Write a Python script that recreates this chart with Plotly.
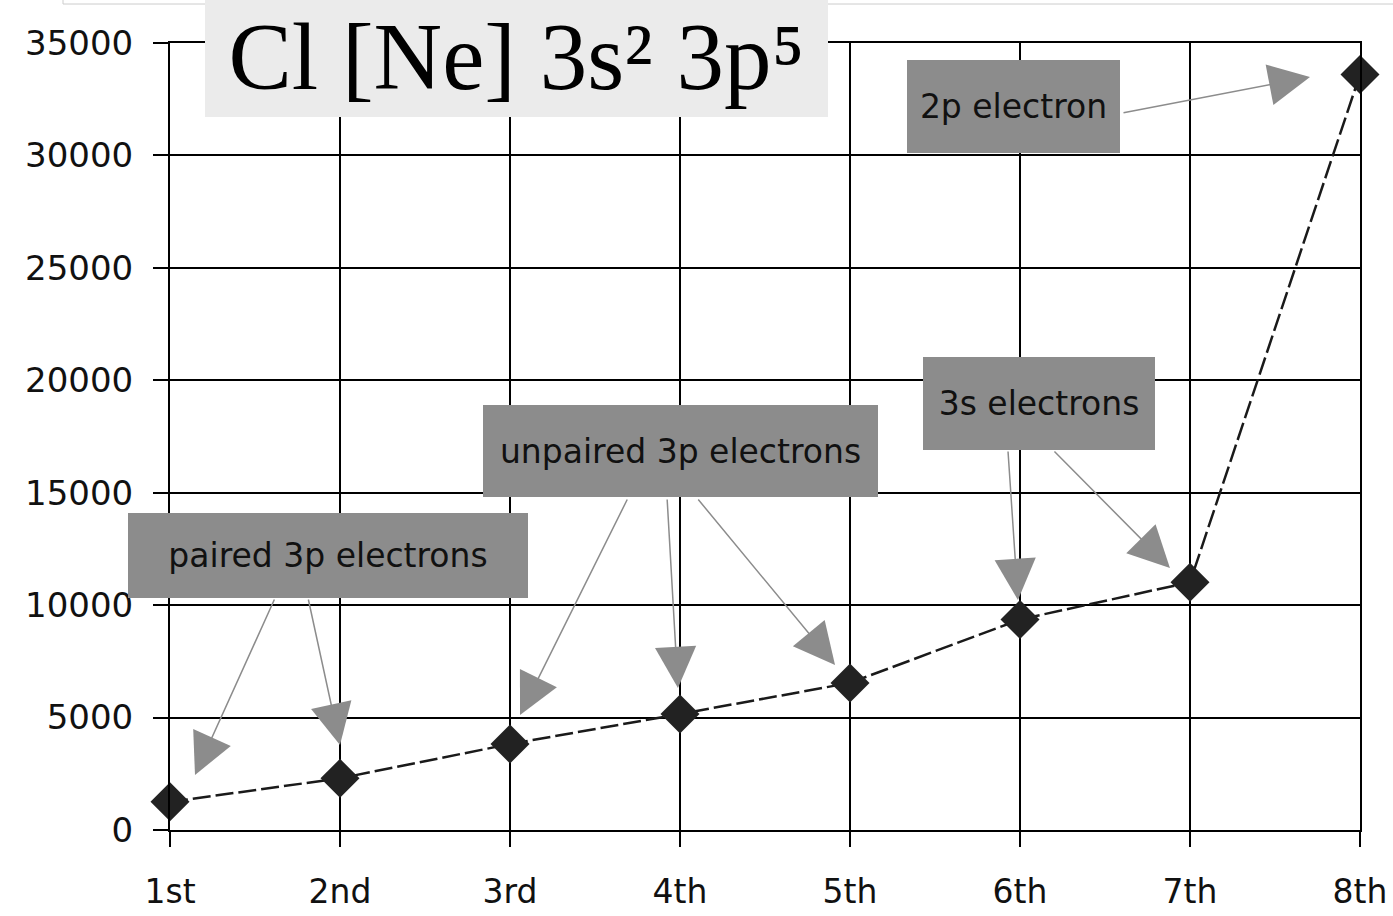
import plotly.graph_objects as go

# ---- data ----
categories = ["1st", "2nd", "3rd", "4th", "5th", "6th", "7th", "8th"]
ionisation_energy = [1251, 2298, 3822, 5159, 6542, 9362, 11018, 33604]
y_ticks = [0, 5000, 10000, 15000, 20000, 25000, 30000, 35000]
y_ticklabels = ["0", "5000", "10000", "15000", "20000", "25000", "30000", "35000"]

title_text = "Cl [Ne] 3s\u00b2 3p\u2075"

# label boxes: text, centre x (category index), centre y (value), width px, height px
box_texts = ["paired 3p electrons", "unpaired 3p electrons", "3s electrons", "2p electron"]
box_x = [0.929, 3.003, 5.112, 4.962]
box_y = [12207, 16854, 18966, 32174]
box_w = [400, 395, 232, 213]
box_h = [85, 92, 93, 93]

# arrows: tail (x, y) -> head (x, y)
arrow_tail_x = [0.618, 0.812, 2.694, 2.924, 3.100, 4.929, 5.194, 5.600]
arrow_tail_y = [10317, 10317, 14764, 14764, 14764, 16899, 16899, 31885]
arrow_head_x = [0.147, 1.000, 2.059, 2.988, 3.912, 4.988, 5.882, 6.706]
arrow_head_y = [2446, 3780, 5114, 6315, 7338, 10228, 11651, 33486]

xs = list(range(len(categories)))

fig = go.Figure()
fig.add_trace(go.Scatter(
    x=xs, y=ionisation_energy, mode="lines+markers",
    line=dict(color="#1a1a1a", width=2.5, dash="18px,5px"),
    marker=dict(symbol="diamond", size=30, color="#222222"),
    cliponaxis=False, showlegend=False, hoverinfo="skip",
))

annotations = []
for t, x, y, w, h in zip(box_texts, box_x, box_y, box_w, box_h):
    annotations.append(dict(
        x=x, y=y, xref="x", yref="y", text=t, showarrow=False,
        width=w, height=h, bgcolor="#8c8c8c", borderpad=0, borderwidth=0,
        font=dict(family="DejaVu Sans", size=33, color="#111111"),
        xanchor="center", yanchor="middle", valign="middle",
    ))
for tx, ty, hx, hy in zip(arrow_tail_x, arrow_tail_y, arrow_head_x, arrow_head_y):
    annotations.append(dict(
        x=hx, y=hy, ax=tx, ay=ty, xref="x", yref="y", axref="x", ayref="y",
        text="", showarrow=True, arrowhead=2, arrowsize=5.5, arrowwidth=1.5,
        arrowcolor="#8c8c8c",
    ))

W, H = 1393, 916
L, R, T, B = 170, 33, 43, 86
pw, ph = W - L - R, H - T - B


def px_x(p):
    return (p - L) / pw


def px_y(p):
    return (H - B - p) / ph


fig.update_layout(
    template=None,
    width=W, height=H,
    margin=dict(l=L, r=R, t=T, b=B, pad=0, autoexpand=False),
    paper_bgcolor="white", plot_bgcolor="white",
    annotations=annotations,
    title=dict(text=title_text, xref="paper", yref="container",
               x=px_x(516.5), y=1 - 56 / H, xanchor="center", yanchor="middle",
               font=dict(family="Liberation Serif", size=95, color="black")),
    shapes=[
        dict(type="rect", xref="paper", yref="paper",
             x0=px_x(63), x1=px_x(1400), y0=px_y(4), y1=px_y(-20),
             line=dict(color="#cccccc", width=1), layer="below"),
        dict(type="rect", xref="paper", yref="paper",
             x0=px_x(205), x1=px_x(828), y0=px_y(117), y1=px_y(0),
             fillcolor="#ebebeb", line=dict(width=0), layer="above"),
    ],
)
fig.update_xaxes(
    range=[0, 7], tickvals=xs, ticktext=categories, automargin=False,
    showgrid=True, gridcolor="black", gridwidth=2,
    showline=True, linecolor="black", linewidth=2, mirror=True,
    ticks="outside", ticklen=15, tickwidth=2, tickcolor="black",
    tickfont=dict(family="DejaVu Sans", size=33, color="#111111"),
    ticklabelstandoff=16, zeroline=False,
)
fig.update_yaxes(
    range=[0, 35000], tickvals=y_ticks, ticktext=y_ticklabels, automargin=False,
    showgrid=True, gridcolor="black", gridwidth=2,
    showline=True, linecolor="black", linewidth=2, mirror=True,
    ticks="outside", ticklen=15, tickwidth=2, tickcolor="black",
    tickfont=dict(family="DejaVu Sans", size=34, color="#111111"),
    ticklabelstandoff=13, zeroline=False,
)

fig.write_html(
    "out.html",
    config={"displayModeBar": False},
    post_script="document.body.style.margin='0';document.body.style.padding='0';"
                "document.body.style.overflow='hidden';",
)
